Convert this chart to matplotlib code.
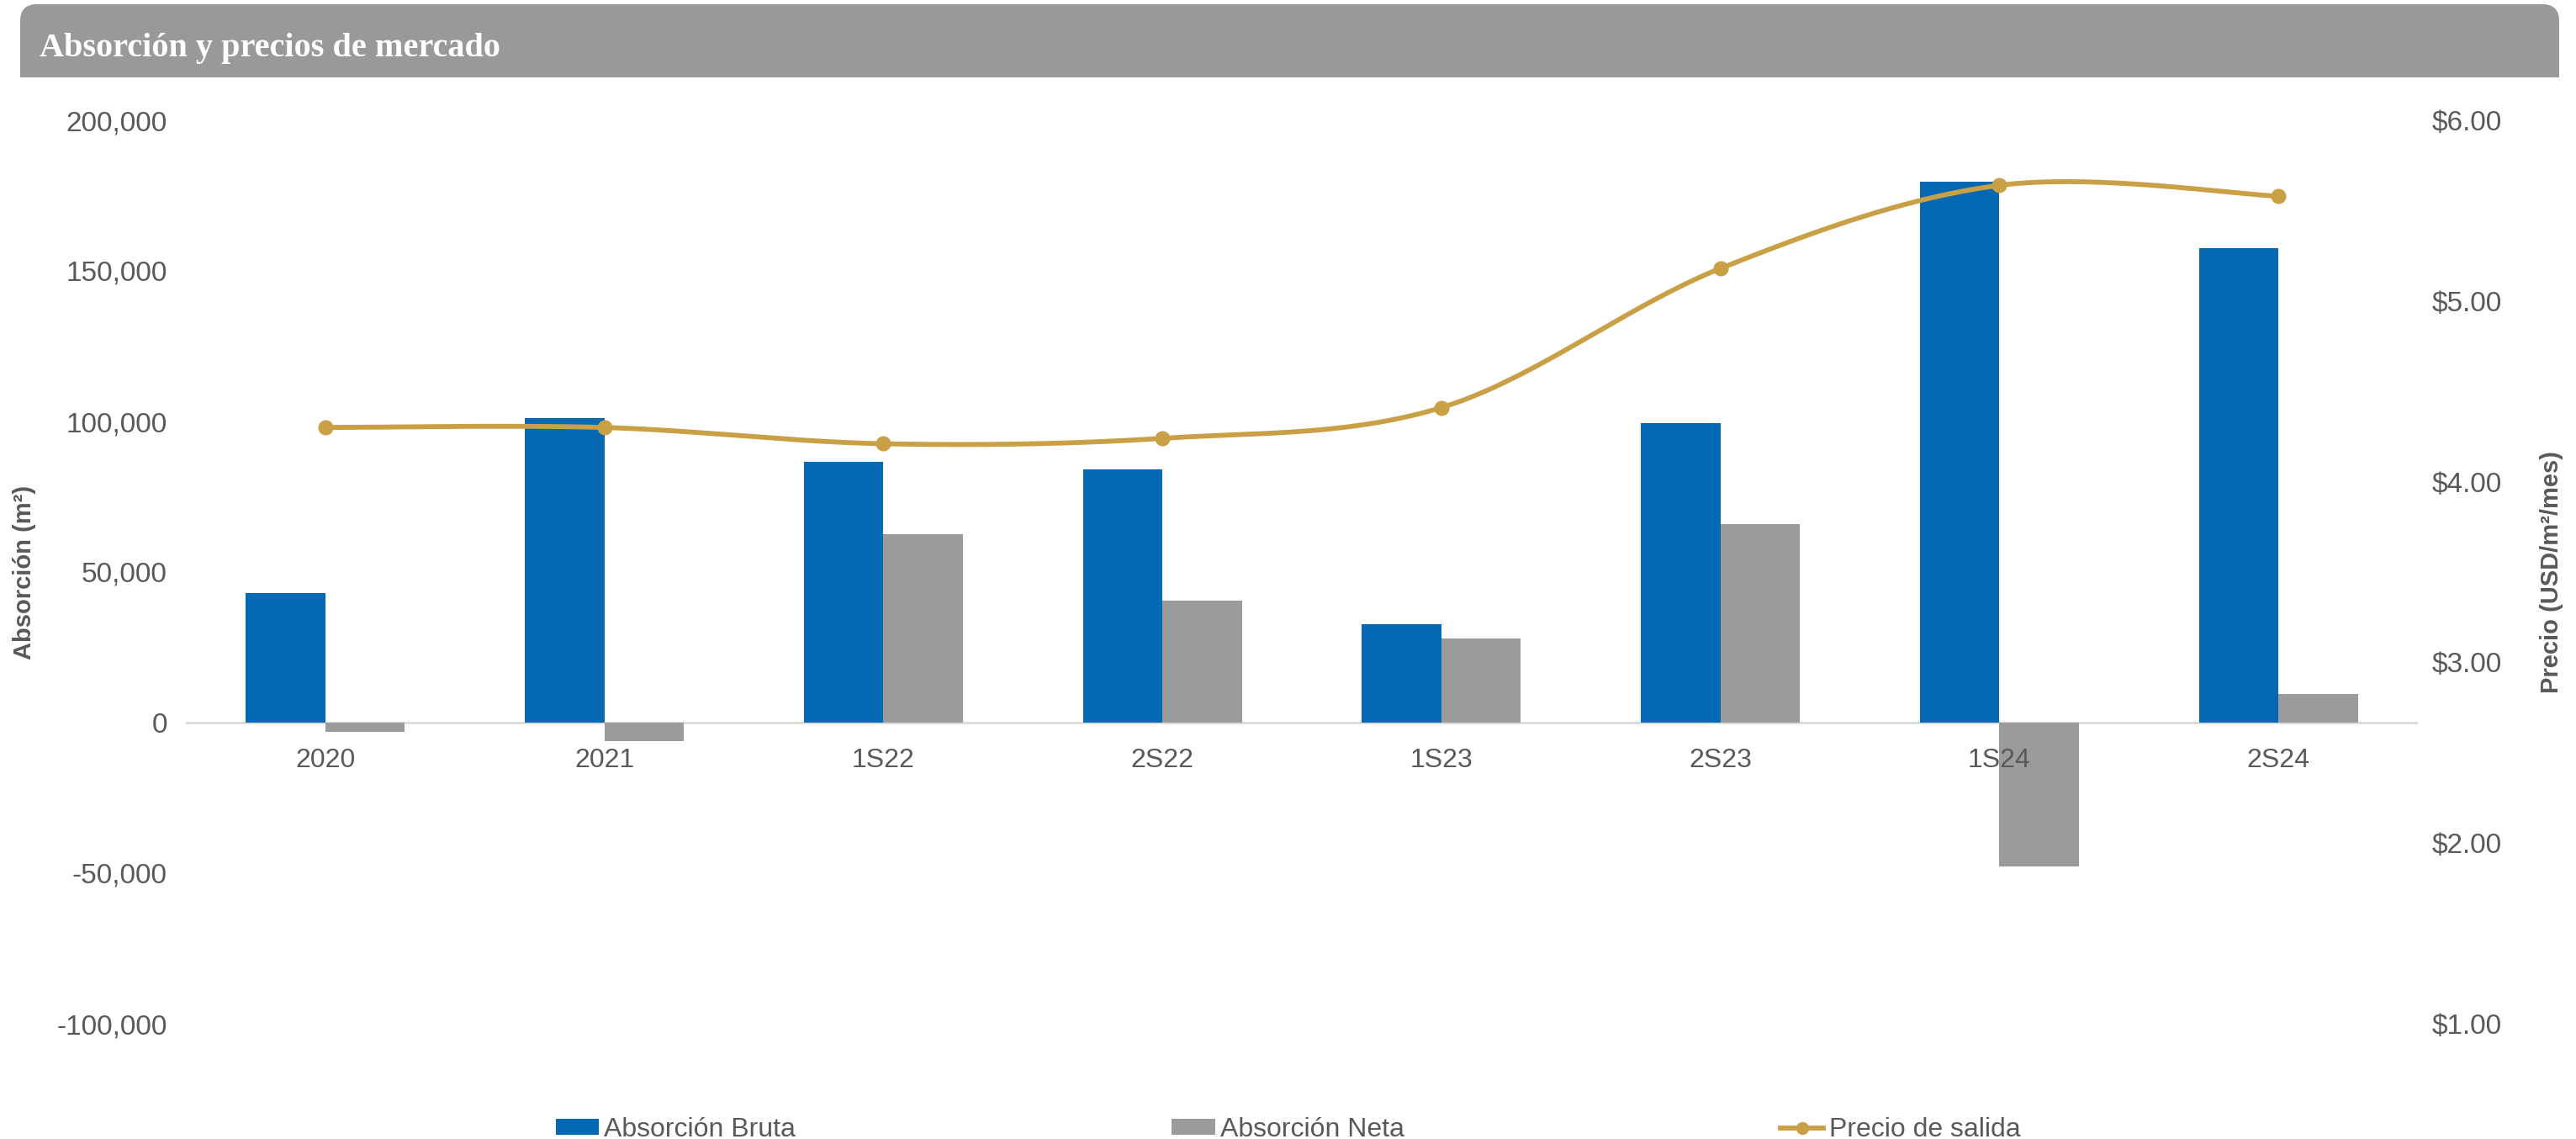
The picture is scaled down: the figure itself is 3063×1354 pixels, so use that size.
import matplotlib.pyplot as plt
import numpy as np
from matplotlib.patches import FancyBboxPatch, Rectangle
from matplotlib.lines import Line2D
from matplotlib.patches import Patch

# ---------------- Data ----------------
periods = ['2020', '2021', '1S22', '2S22', '1S23', '2S23', '1S24', '2S24']
gross_absorption = [43000, 101000, 86600, 84000, 32800, 99500, 179500, 157500]
net_absorption = [-3200, -6200, 62700, 40400, 27800, 65800, -47700, 9400]
asking_price = [4.30, 4.30, 4.21, 4.24, 4.41, 5.18, 5.64, 5.58]

BLUE = '#0469B2'
GRAY = '#9B9B9B'
GOLD = '#C9A046'
TEXT = '#595959'

plt.rcParams['font.family'] = ['Liberation Sans', 'DejaVu Sans']


def smooth_curve(x, y, steps=40):
    # Catmull-Rom style Bezier smoothing through every point
    x = np.asarray(x, float)
    y = np.asarray(y, float)
    xs, ys = [], []
    n = len(x)
    for i in range(n - 1):
        p0 = (x[max(i - 1, 0)], y[max(i - 1, 0)])
        p1 = (x[i], y[i])
        p2 = (x[i + 1], y[i + 1])
        p3 = (x[min(i + 2, n - 1)], y[min(i + 2, n - 1)])
        c1 = (p1[0] + (p2[0] - p0[0]) / 6, p1[1] + (p2[1] - p0[1]) / 6)
        c2 = (p2[0] - (p3[0] - p1[0]) / 6, p2[1] - (p3[1] - p1[1]) / 6)
        t = np.linspace(0, 1, steps)
        bx = ((1 - t) ** 3 * p1[0] + 3 * (1 - t) ** 2 * t * c1[0]
              + 3 * (1 - t) * t ** 2 * c2[0] + t ** 3 * p2[0])
        by = ((1 - t) ** 3 * p1[1] + 3 * (1 - t) ** 2 * t * c1[1]
              + 3 * (1 - t) * t ** 2 * c2[1] + t ** 3 * p2[1])
        xs.extend(bx)
        ys.extend(by)
    return np.array(xs), np.array(ys)


# ---------------- Figure ----------------
W, H = 3063, 1354
fig = plt.figure(figsize=(W / 100, H / 100), dpi=100, facecolor='white')

# header bar drawn in pixel units
hdr = fig.add_axes([0, 0, 1, 1], zorder=0)
hdr.set_xlim(0, W)
hdr.set_ylim(H, 0)
hdr.axis('off')
hdr.add_patch(FancyBboxPatch((24, 5), 3019, 87,
                             boxstyle='round,pad=0,rounding_size=20',
                             facecolor='#999999', edgecolor='none'))
hdr.add_patch(Rectangle((24, 50), 3019, 42, facecolor='#999999', edgecolor='none'))
hdr.text(47, 67, 'Absorción y precios de mercado', color='white',
         fontsize=29, fontweight='bold', family='Liberation Serif',
         ha='left', va='baseline')

ax_left, ax_right, ax_top, ax_bottom = 221, 2875, 143, 1217
ax = fig.add_axes([ax_left / W, 1 - ax_bottom / H,
                   (ax_right - ax_left) / W, (ax_bottom - ax_top) / H], zorder=1)
ax.patch.set_alpha(0)
x = np.arange(len(periods))
bw = 0.285
ax.bar(x - bw / 2, gross_absorption, bw, color=BLUE, zorder=2)
ax.bar(x + bw / 2, net_absorption, bw, color=GRAY, zorder=2)
ax.axhline(0, color='#D9D9D9', linewidth=2, zorder=1)

ax.set_xlim(-0.5, len(periods) - 0.5)
ax.set_ylim(-100000, 200000)
ax.set_yticks(np.arange(-100000, 200001, 50000))
ax.set_yticklabels([f'{v:,.0f}' for v in ax.get_yticks()])
ax.set_xticks([])
for i, p in enumerate(periods):
    ax.annotate(p, (i, 0), xytext=(0, -45), textcoords='offset pixels',
                ha='center', va='center', fontsize=23, color=TEXT, zorder=5)
ax.tick_params(axis='y', length=0, pad=16, labelsize=24, labelcolor=TEXT)
for s in ax.spines.values():
    s.set_visible(False)
ax.set_ylabel('Absorción (m²)', fontsize=21, fontweight='bold', color=TEXT)
ax.yaxis.set_label_coords((43 - ax_left) / (ax_right - ax_left), 0.5)

ax2 = ax.twinx()
ax2.set_ylim(1, 6)
ax2.set_yticks(np.arange(1, 7))
ax2.set_yticklabels([f'${v:.2f}' for v in ax2.get_yticks()])
ax2.tick_params(axis='y', length=0, pad=12, labelsize=24, labelcolor=TEXT)
for s in ax2.spines.values():
    s.set_visible(False)
sx, sy = smooth_curve(x, asking_price)
ax2.plot(sx, sy, color=GOLD, linewidth=4.2, solid_capstyle='round')
ax2.plot(x, asking_price, 'o', color=GOLD, markersize=12)
ax2.set_ylabel('Precio (USD/m²/mes)', fontsize=21, fontweight='bold', color=TEXT)
ax2.yaxis.set_label_coords((3020 - ax_left) / (ax_right - ax_left), 0.5)

handles = [Patch(facecolor=BLUE), Patch(facecolor=GRAY),
           Line2D([0], [0], color=GOLD, linewidth=4.2, marker='o', markersize=10)]
fig.legend(handles, ['Absorción Bruta', 'Absorción Neta', 'Precio de salida'],
           loc='center', bbox_to_anchor=(0.5, 0.008), ncol=3, frameon=False,
           fontsize=23, labelcolor=TEXT, handlelength=1.6, handleheight=0.55,
           handletextpad=0.2, columnspacing=14, borderpad=0)

fig.savefig('out.png', dpi=100)
